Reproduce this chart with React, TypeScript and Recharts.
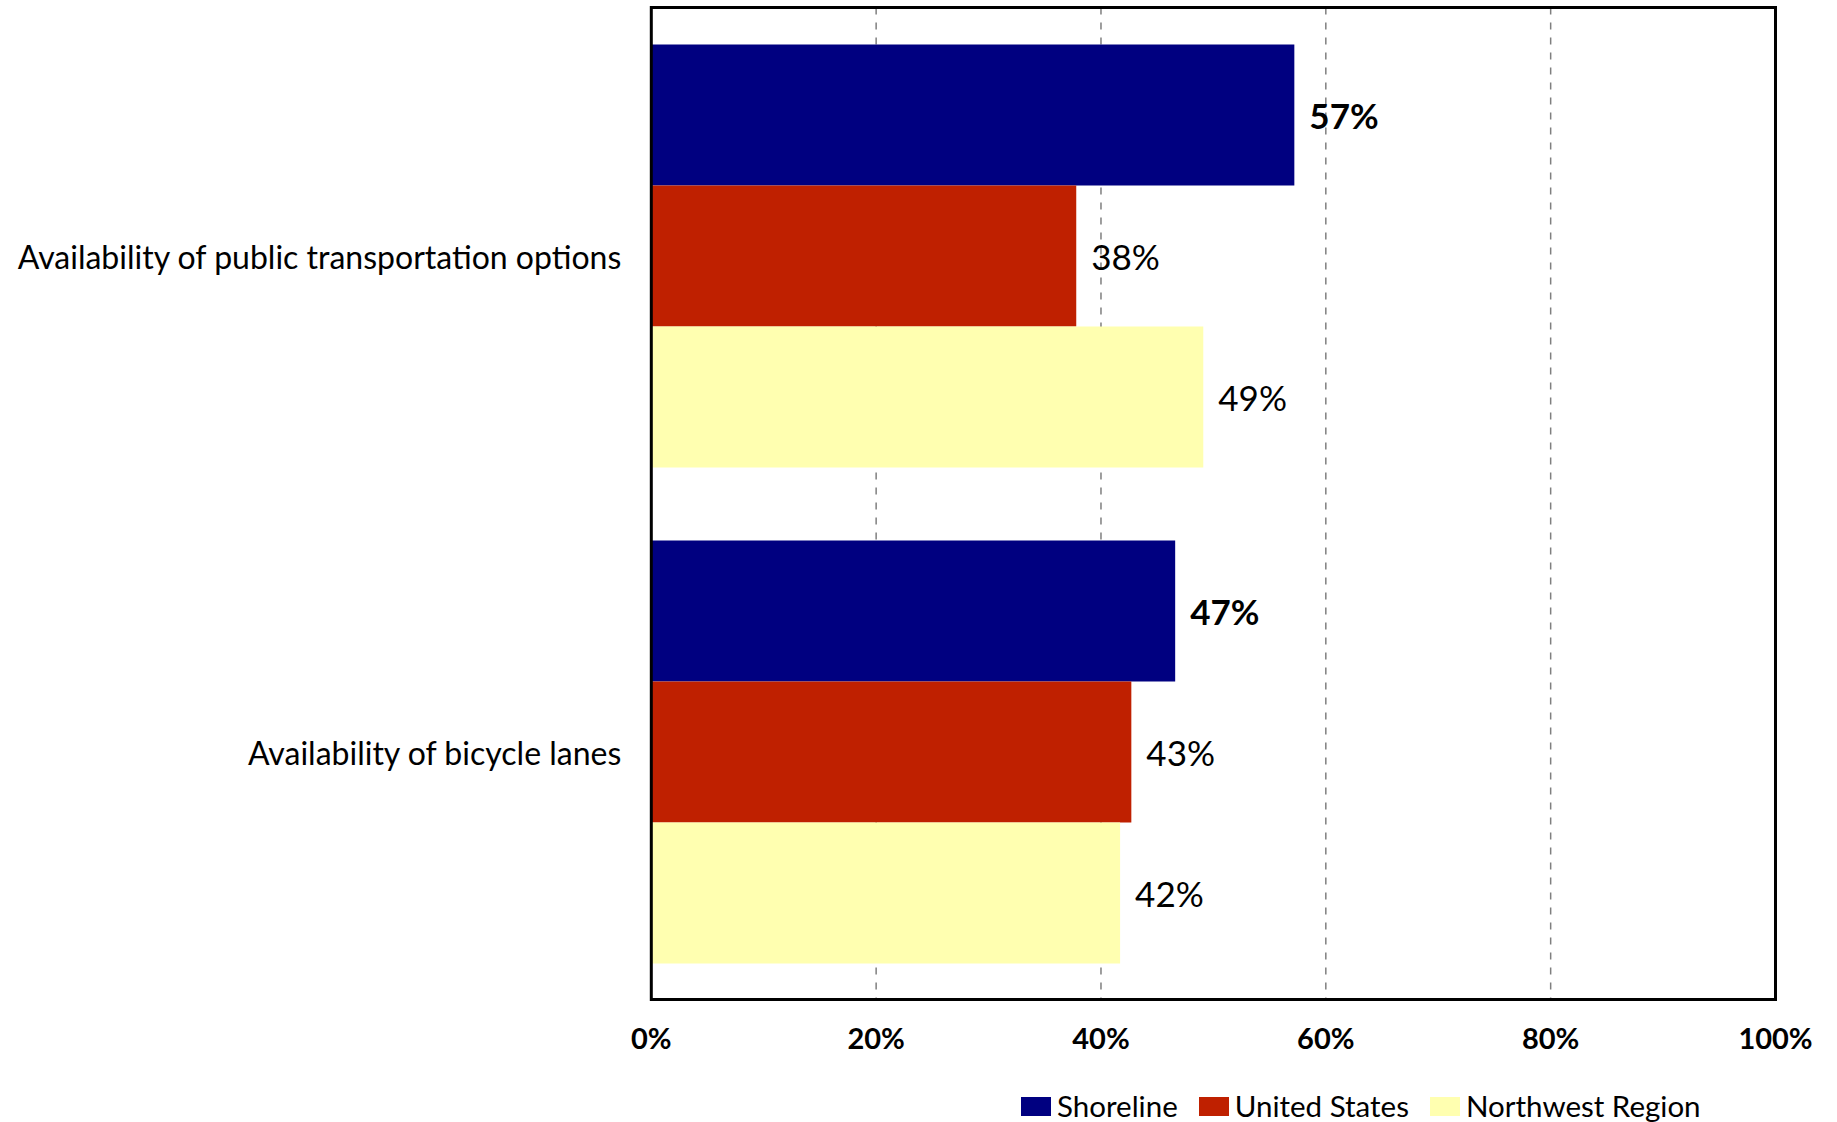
import React from 'react';
import { BarChart, Bar, XAxis, YAxis, CartesianGrid, LabelList, ReferenceArea } from 'recharts';

// values, in percent
const categories = ['Availability of public transportation options', 'Availability of bicycle lanes'];
const shoreline = [57.2, 46.6];
const unitedStates = [37.8, 42.7];
const northwest = [49.1, 41.7];
const xTicks = [0, 20, 40, 60, 80, 100];

const seriesNames = ['Shoreline', 'United States', 'Northwest Region'];
const seriesKeys = ['shoreline', 'unitedStates', 'northwest'];
const seriesColors = ['#000080', '#BF2000', '#FFFFB0'];

const FONT = 'Lato, "Liberation Sans", sans-serif';

const data = categories.map((c, i) => ({
    category: c,
    shoreline: shoreline[i],
    unitedStates: unitedStates[i],
    northwest: northwest[i],
}));

const pct = (v: any) => `${Math.round(Number(v))}%`;

// bottom axis labels, bold
const XTick = (props: any) => {
    const { x, y, payload } = props;
    return (
        <text x={x} y={y + 49} textAnchor="middle" fontFamily={FONT} fontSize={29} fontWeight="bold" fill="#000">
            {`${payload.value}%`}
        </text>
    );
};

// category labels, plain text so nothing wraps
const YTick = (props: any) => {
    const { x, y, payload } = props;
    return (
        <text x={x - 30} y={y + 1} textAnchor="end" dominantBaseline="central" fontFamily={FONT} fontSize={32} fill="#000">
            {payload.value}
        </text>
    );
};

export default function App() {
    return (
        <div style={{ position: 'absolute', left: 0, top: 0, width: 1837, height: 1122, background: '#fff' }}>
            <BarChart
                width={1837}
                height={1122}
                data={data}
                layout="vertical"
                margin={{ top: 7.5, right: 61.5, bottom: 62.5, left: 0 }}
                barCategoryGap="7.46%"
                barGap={0}
            >
                <CartesianGrid horizontal={false} stroke="#7f7f7f" strokeWidth={1.5} strokeDasharray="7 8" />
                <XAxis
                    type="number"
                    domain={[0, 100]}
                    ticks={xTicks}
                    height={60}
                    tickLine={false}
                    tickSize={0}
                    tickMargin={0}
                    axisLine={false}
                    tick={<XTick />}
                    interval={0}
                />
                <YAxis
                    type="category"
                    dataKey="category"
                    width={651.3}
                    tickLine={false}
                    tickSize={0}
                    tickMargin={0}
                    axisLine={false}
                    tick={<YTick />}
                    interval={0}
                />
                {seriesKeys.map((k, i) => (
                    <Bar key={k} dataKey={k} name={seriesNames[i]} fill={seriesColors[i]} isAnimationActive={false}>
                        <LabelList
                            dataKey={k}
                            position="right"
                            offset={15}
                            formatter={pct}
                            fill="#000"
                            fontFamily={FONT}
                            fontSize={35}
                            dy={2}
                            fontWeight={i === 0 ? 'bold' : 'normal'}
                        />
                    </Bar>
                ))}
                {/* plot frame drawn on top of the bars */}
                <ReferenceArea x1={0} x2={100} fill="none" fillOpacity={0} stroke="#000" strokeWidth={3} strokeOpacity={1} zIndex={1000} />
            </BarChart>
            <div
                style={{
                    position: 'absolute',
                    left: 1021,
                    top: 1091,
                    display: 'flex',
                    alignItems: 'center',
                    fontFamily: FONT,
                    fontSize: 29.5,
                    lineHeight: '30px',
                    color: '#000',
                    whiteSpace: 'nowrap',
                }}
            >
                {seriesNames.map((n, i) => (
                    <div key={n} style={{ display: 'flex', alignItems: 'center', marginRight: 21 }}>
                        <span style={{ display: 'inline-block', width: 30, height: 19, background: seriesColors[i], marginRight: 6 }} />
                        <span>{n}</span>
                    </div>
                ))}
            </div>
        </div>
    );
}
